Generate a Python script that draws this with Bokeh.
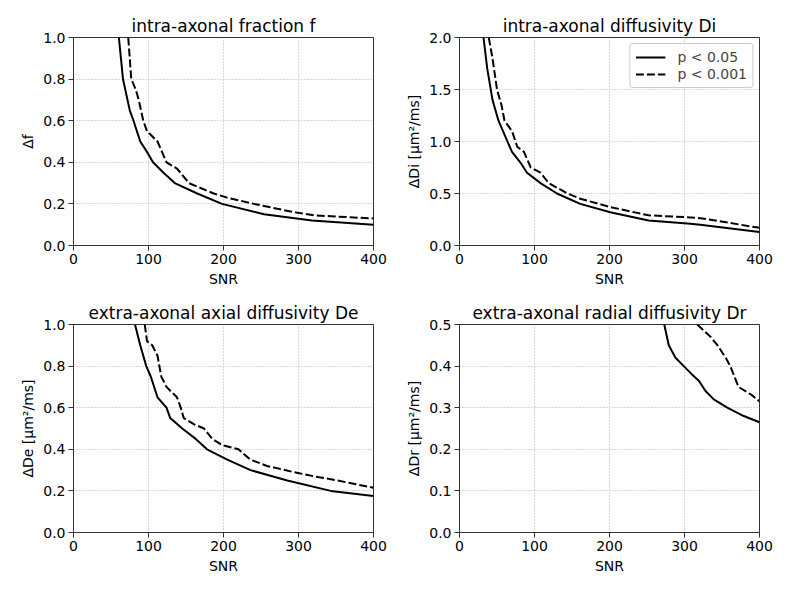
from bokeh.plotting import figure
from bokeh.models import Range1d, FixedTicker, NumeralTickFormatter, Legend, LegendItem
from bokeh.layouts import gridplot
from bokeh.embed import file_html
from bokeh.resources import INLINE

# ---- data ----
f_snr_05 = [60.5, 66, 75, 80, 89, 98, 106, 120, 135, 165, 198, 254, 318, 400]
f_val_05 = [1.0, 0.8, 0.65, 0.6, 0.5, 0.45, 0.4, 0.35, 0.3, 0.25, 0.2, 0.15, 0.12, 0.1]
f_snr_001 = [73, 77, 83, 87, 93, 98, 112, 124, 138, 154, 187, 205, 241, 294, 321, 400]
f_val_001 = [1.0, 0.8, 0.75, 0.7, 0.6, 0.55, 0.5, 0.4, 0.37, 0.3, 0.25, 0.23, 0.2, 0.16, 0.145, 0.13]

di_snr_05 = [32, 37, 44, 52, 61, 70, 81, 90, 108, 130, 161, 201, 252, 308, 321, 400]
di_val_05 = [2.0, 1.7, 1.4, 1.2, 1.05, 0.9, 0.8, 0.7, 0.6, 0.5, 0.4, 0.32, 0.24, 0.21, 0.2, 0.13]
di_snr_001 = [39, 44, 50, 56, 60, 70, 77, 86, 95, 108, 119, 144, 161, 201, 252, 308, 324, 400]
di_val_001 = [2.0, 1.8, 1.5, 1.35, 1.2, 1.1, 0.95, 0.9, 0.75, 0.7, 0.6, 0.5, 0.45, 0.37, 0.29, 0.27, 0.26, 0.17]

de_snr_05 = [82, 89, 97, 103, 112, 124, 129, 145, 163, 178, 205, 236, 285, 343, 400]
de_val_05 = [1.0, 0.9, 0.8, 0.75, 0.65, 0.6, 0.55, 0.5, 0.45, 0.4, 0.35, 0.3, 0.25, 0.2, 0.175]
de_snr_001 = [95, 98, 105, 112, 117, 124, 138, 143, 147, 161, 174, 185, 198, 220, 236, 258, 294, 321, 352, 400]
de_val_001 = [1.0, 0.92, 0.9, 0.85, 0.75, 0.7, 0.65, 0.6, 0.55, 0.52, 0.5, 0.45, 0.42, 0.4, 0.35, 0.32, 0.29, 0.27, 0.25, 0.215]

dr_snr_05 = [273, 279, 288, 299, 310, 319, 328, 339, 357, 379, 400]
dr_val_05 = [0.5, 0.45, 0.42, 0.4, 0.38, 0.365, 0.34, 0.32, 0.3, 0.28, 0.265]
dr_snr_001 = [317, 335, 344, 355, 361, 372, 390, 400]
dr_val_001 = [0.5, 0.47, 0.45, 0.42, 0.4, 0.35, 0.33, 0.315]

titles = ["intra-axonal fraction f", "intra-axonal diffusivity Di",
          "extra-axonal axial diffusivity De", "extra-axonal radial diffusivity Dr"]
ylabels = ["Δf", "ΔDi [μm²/ms]", "ΔDe [μm²/ms]", "ΔDr [μm²/ms]"]
ymax = [1.0, 2.0, 1.0, 0.5]
yticks = [[0, 0.2, 0.4, 0.6, 0.8, 1.0], [0, 0.5, 1.0, 1.5, 2.0],
          [0, 0.2, 0.4, 0.6, 0.8, 1.0], [0, 0.1, 0.2, 0.3, 0.4, 0.5]]
xticks = [0, 100, 200, 300, 400]
series = [(f_snr_05, f_val_05, f_snr_001, f_val_001),
          (di_snr_05, di_val_05, di_snr_001, di_val_001),
          (de_snr_05, de_val_05, de_snr_001, de_val_001),
          (dr_snr_05, dr_val_05, dr_snr_001, dr_val_001)]
legend_labels = ["p < 0.05", "p < 0.001"]

FONT = "DejaVu Sans"
figs = []
for i in range(4):
    left = 73 if i % 2 == 0 else 65
    right = 21 if i % 2 == 0 else 20
    top = 37 if i < 2 else 29
    p = figure(frame_width=300, frame_height=208, output_backend="svg",
               toolbar_location=None, x_range=Range1d(0, 400),
               y_range=Range1d(0, ymax[i]),
               min_border_left=left, min_border_right=right,
               min_border_top=top, min_border_bottom=50)
    p.title.text = titles[i]
    p.title.align = "center"
    p.title.text_font = FONT
    p.title.text_font_size = "17px"
    p.title.text_font_style = "normal"
    p.title.text_color = "black"
    p.title.offset = 0
    p.title.standoff = 4
    p.outline_line_color = "#333333"
    p.outline_line_width = 1
    p.outline_line_alpha = 1
    p.background_fill_color = "white"
    p.border_fill_color = "white"

    for ax in (p.xaxis[0], p.yaxis[0]):
        ax.major_label_text_font = FONT
        ax.major_label_text_font_size = "14px"
        ax.major_label_text_color = "black"
        ax.axis_label_text_font = FONT
        ax.axis_label_text_font_size = "14px"
        ax.axis_label_text_font_style = "normal"
        ax.axis_label_text_color = "black"
        ax.axis_line_color = "#333333"
        ax.major_tick_line_color = "#333333"
        ax.major_tick_out = 5
        ax.major_tick_in = 0
        ax.minor_tick_line_color = None
        ax.major_label_standoff = 3
        ax.axis_label_standoff = 4
    p.xaxis.ticker = FixedTicker(ticks=xticks)
    p.xaxis.formatter = NumeralTickFormatter(format="0")
    p.yaxis.ticker = FixedTicker(ticks=yticks[i])
    p.yaxis.formatter = NumeralTickFormatter(format="0.0")
    p.xaxis.axis_label = "SNR"
    p.yaxis.axis_label = ylabels[i]

    p.grid.grid_line_color = "#b0b0b0"
    p.grid.grid_line_dash = "1 2"
    p.grid.grid_line_width = 1

    x1, y1, x2, y2 = series[i]
    r1 = p.line(x1, y1, line_color="black", line_width=2)
    r2 = p.line(x2, y2, line_color="black", line_width=2, line_dash="8 3")

    if i == 1:
        leg = Legend(items=[LegendItem(label=legend_labels[0], renderers=[r1]),
                            LegendItem(label=legend_labels[1], renderers=[r2])],
                     location="top_right")
        leg.label_text_font = FONT
        leg.label_text_font_size = "14px"
        leg.border_line_color = "#cccccc"
        leg.border_line_alpha = 1
        leg.border_radius = 3
        leg.glyph_width = 30
        leg.glyph_height = 16
        leg.label_height = 16
        leg.label_standoff = 12
        leg.spacing = 1
        leg.padding = 5
        leg.margin = 6
        leg.background_fill_alpha = 0.8
        p.add_layout(leg)
    figs.append(p)

grid = gridplot([[figs[0], figs[1]], [figs[2], figs[3]]], toolbar_location=None)
open("out.html", "w").write(file_html(grid, INLINE))
